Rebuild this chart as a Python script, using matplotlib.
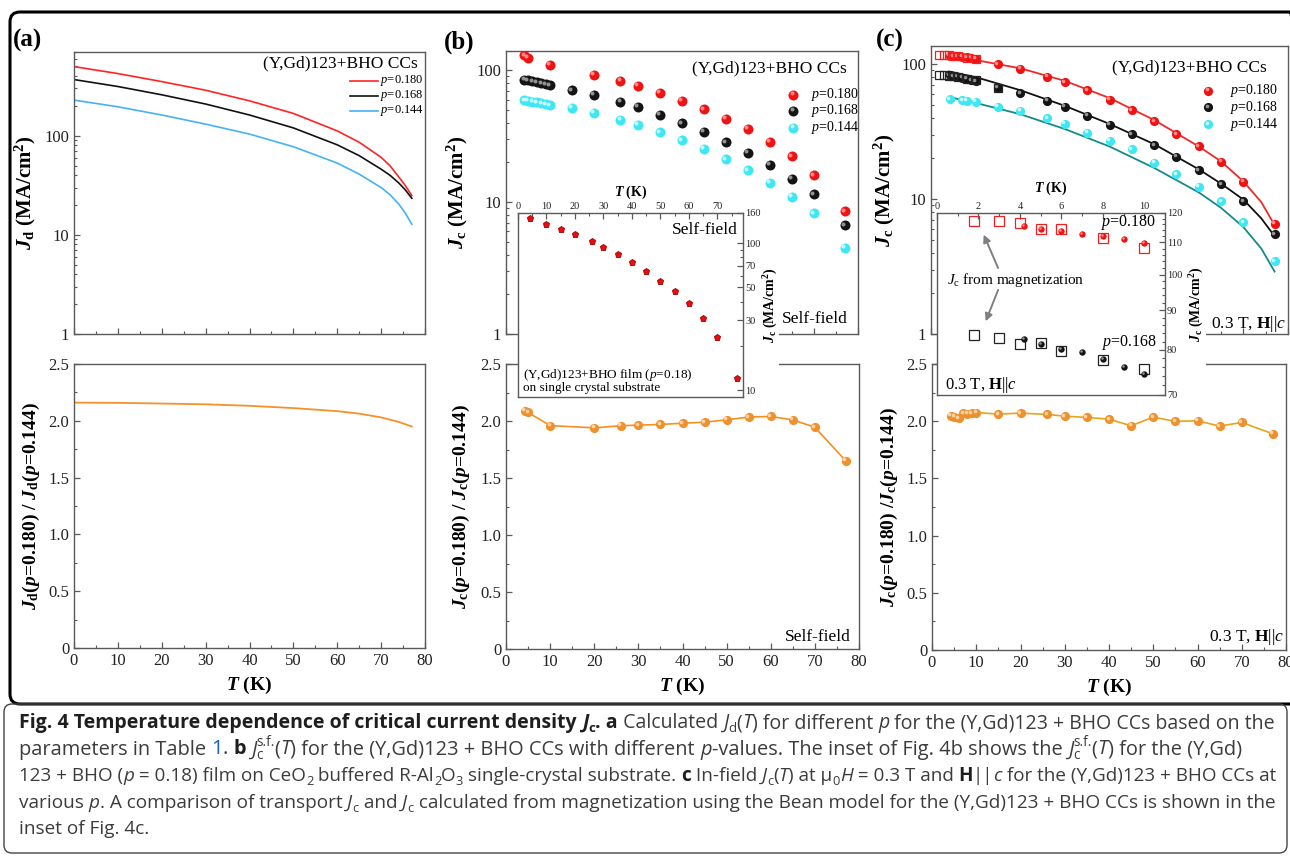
import numpy as np
import matplotlib
matplotlib.use("Agg")
import matplotlib.pyplot as plt
from matplotlib import transforms
from matplotlib.patches import Rectangle, FancyBboxPatch
from matplotlib.ticker import (MultipleLocator, FixedLocator, LogLocator,
                               NullFormatter, FuncFormatter)

plt.rcParams["font.family"] = ["Liberation Serif", "DejaVu Serif"]
plt.rcParams["mathtext.fontset"] = "custom"
plt.rcParams["mathtext.rm"] = "Liberation Serif"
plt.rcParams["mathtext.it"] = "Liberation Serif:italic"
plt.rcParams["mathtext.bf"] = "Liberation Serif:bold"
plt.rcParams["mathtext.bfit"] = "Liberation Serif:italic:bold"

# ---------------- data ----------------
# (a) calculated depairing current Jd(T)
T_a = [0, 10, 20, 30, 40, 50, 60, 65, 70, 72, 74, 75.5, 77]
jd_180 = [499, 424, 352, 288, 225, 168, 112, 86, 60.6, 50, 38.5, 31.5, 24.9]
jd_168 = [369, 314, 259, 209, 162, 120, 81, 63, 46, 40, 33.5, 28.5, 23.4]
jd_144 = [229, 196, 162, 131, 104, 77.5, 53, 41, 30, 25.5, 20.5, 16.6, 12.8]
T_ra = [0, 10, 20, 30, 40, 50, 60, 65, 70, 74, 77]
ratio_a = [2.16, 2.158, 2.152, 2.145, 2.132, 2.112, 2.085, 2.063, 2.03, 1.99, 1.95]

# (b) self-field Jc
T_b180 = [4.2, 5, 10, 20, 26, 30, 35, 40, 45, 50, 55, 60, 65, 70, 77]
jc_b180 = [130, 124, 110, 92.8, 83.5, 76.6, 67.3, 58.9, 50.7, 42.8, 35.8, 28.8, 22.3, 16, 8.55]
T_b = [4.2, 5, 6, 7, 8, 9, 10, 15, 20, 26, 30, 35, 40, 45, 50, 55, 60, 65, 70, 77]
jc_b168 = [85, 84, 82.5, 81, 79.5, 78, 77, 70.5, 65, 57.5, 52.7, 45.9, 39.7, 34.1,
           28.5, 23.7, 19.2, 15.1, 11.5, 6.66]
jc_b144 = [59.2, 58.5, 57.8, 57, 56.2, 55.3, 54.3, 51.8, 47.5, 42.3, 38.5, 33.9, 29.5,
           25.4, 21.2, 17.4, 14, 11, 8.2, 4.5]
ratio_b = [2.09, 2.075, 1.96, 1.94, 1.958, 1.964, 1.97, 1.98, 1.99, 2.01, 2.035, 2.04,
           2.01, 1.945, 1.65]
# inset (b): film on single crystal substrate
T_ib = [4.2, 10, 15, 20, 26, 30, 35, 40, 45, 50, 55, 60, 65, 70, 77]
jc_ib = [148, 135.6, 125, 115.8, 103, 94.4, 84, 74.5, 65, 55.5, 46.9, 39, 31.1, 23, 12.2]

# (c) in-field Jc, 0.3 T
T_c = [4.2, 5, 6, 7, 8, 9, 10, 15, 20, 26, 30, 35, 40, 45, 50, 55, 60, 65, 70, 77]
jc_c180 = [115.4, 114.6, 113.7, 112.9, 112, 111.1, 109.7, 100, 92.3, 80.5, 73.5, 64.1,
           54.3, 45.5, 37.7, 30.3, 24.7, 18.9, 13.4, 6.58]
jc_c168 = [82.6, 81.5, 80.3, 79.4, 77.8, 76, 74.5, 67, 60.5, 53.4, 48.2, 41.5, 35.6,
           30.3, 25.1, 20.6, 16.4, 12.9, 9.6, 5.5]
T_c144 = [4.2, 7, 8, 10, 15, 20, 26, 30, 35, 40, 45, 50, 55, 60, 65, 70, 77]
jc_c144 = [55, 53.8, 53.4, 52.5, 48.4, 45, 39.7, 36.2, 31, 27, 23.3, 18.6, 15.3, 12.3,
           9.6, 6.76, 3.47]
# Jc from magnetization (open squares)
T_sq = [1.8, 3, 4, 5, 6, 8, 10]
sq_180 = [117.1, 117.1, 116.5, 114.6, 114.4, 111.5, 108.3]
sq_168 = [83.6, 82.9, 81.5, 81.6, 79.7, 77.6, 75.7]
T_sq_extra = [15]
sq_168_extra = [66]
# model curves in (c)
T_fit = [4, 10, 20, 30, 40, 50, 60, 65, 70, 74, 77]
fit_180 = [114, 107, 93, 75, 56, 38.5, 24.5, 19, 13.5, 9.5, 6.4]
fit_168 = [88, 80, 64, 49, 36, 25.5, 16.6, 13, 9.9, 7.2, 5.3]
fit_144 = [57, 51.5, 42.5, 33, 24.5, 17, 11.2, 8.6, 6.2, 4.3, 2.9]
ratio_c = [2.047, 2.041, 2.024, 2.068, 2.065, 2.071, 2.076, 2.062, 2.071, 2.059, 2.044,
           2.033, 2.018, 1.96, 2.036, 1.998, 2.004, 1.957, 1.989, 1.89]

labels_p = [r"$\mathit{p}$=0.180", r"$\mathit{p}$=0.168", r"$\mathit{p}$=0.144"]

# ---------------- figure ----------------
W, H = 1290, 856
fig = plt.figure(figsize=(W / 100, H / 100), dpi=100)
GREY = "#5a5a5a"
RED, RED_HL = "#F01212", "#FFA0A0"
BLK, BLK_HL = "#141414", "#A8A8A8"
CYN, CYN_HL = "#3DE8F4", "#E2FDFF"
ORG, ORG_HL = "#F0902C", "#FFE2BE"


def box(l, t, r, b):
    return [l / W, 1 - b / H, (r - l) / W, (b - t) / H]


def style(ax, size=12):
    for s in ax.spines.values():
        s.set_color(GREY)
        s.set_linewidth(1.0)
    ax.tick_params(which="both", direction="in", color=GREY, labelsize=size,
                   labelcolor="#222222")
    ax.tick_params(which="major", length=4, width=0.9)
    ax.tick_params(which="minor", length=2.3, width=0.8)


def main_axes(rect, log=False):
    ax = fig.add_axes(box(*rect))
    style(ax)
    ax.set_xlim(0, 80)
    ax.xaxis.set_major_locator(MultipleLocator(10))
    ax.xaxis.set_minor_locator(MultipleLocator(5))
    ax.tick_params(top=False, right=False, which="both")
    if log:
        ax.set_yscale("log")
        ax.yaxis.set_major_locator(LogLocator(base=10))
        ax.yaxis.set_minor_locator(LogLocator(base=10, subs=np.arange(2, 10)))
        ax.yaxis.set_major_formatter(FuncFormatter(lambda v, p: f"{v:g}"))
        ax.yaxis.set_minor_formatter(NullFormatter())
        ax.tick_params(labelbottom=False)
    else:
        ax.set_ylim(0, 2.5)
        ax.yaxis.set_major_locator(MultipleLocator(0.5))
        ax.yaxis.set_minor_locator(MultipleLocator(0.25))
        ax.yaxis.set_major_formatter(
            FuncFormatter(lambda v, p: "0" if abs(v) < 1e-9 else f"{v:.1f}"))
        ax.set_xlabel(r"$\mathbfit{T}$ (K)", fontsize=14, fontweight="bold")
        ax.xaxis.set_label_coords(0.5, -0.095)
    return ax


def balls(ax, x, y, c, hl, ms, z=3, transform=None, clip=True):
    tr = ax.transData if transform is None else transform
    ax.plot(x, y, "o", ms=ms, color=c, mew=0, zorder=z, transform=tr, clip_on=clip)
    off = transforms.offset_copy(tr, fig=fig, x=-0.16 * ms, y=0.16 * ms, units="points")
    ax.plot(x, y, "o", ms=0.4 * ms, color=hl, mew=0, alpha=0.85, zorder=z + 0.1,
            transform=off, clip_on=clip)


def ball_legend(ax, cols, xm, xt, ys, fs, ms):
    for (c, hl), lab, y in zip(cols, labels_p, ys):
        balls(ax, [xm], [y], c, hl, ms, z=5, transform=ax.transAxes, clip=False)
        ax.text(xt, y, lab, transform=ax.transAxes, fontsize=fs, va="center", ha="left")


JD = r"$\mathbfit{J}_\mathbf{d}$"
JC = r"$\mathbfit{J}_\mathbf{c}$"

# ---------- (a) ----------
axa = main_axes((74, 52, 425, 334), log=True)
axa.set_ylim(1, 700)
axa.plot(T_a, jd_180, color="#FF2424", lw=1.2)
axa.plot(T_a, jd_168, color="#111111", lw=1.2)
axa.plot(T_a, jd_144, color="#45B2F5", lw=1.2)
axa.text(0.98, 0.961, "(Y,Gd)123+BHO CCs", transform=axa.transAxes, ha="right",
         va="center", fontsize=12.5)
for c, lab, y in zip(["#FF2424", "#111111", "#45B2F5"], labels_p, [0.898, 0.844, 0.792]):
    axa.plot([0.786, 0.866], [y, y], color=c, lw=1.2, transform=axa.transAxes)
    axa.text(0.872, y, lab, transform=axa.transAxes, fontsize=9, va="center")
axa.set_ylabel(JD + " (MA/cm$^\\mathbf{2}$)", fontsize=15, fontweight="bold")
axa.yaxis.set_label_coords(-0.103, 0.5)

axa2 = main_axes((74, 364, 425, 648))
axa2.plot(T_ra, ratio_a, color="#F7902A", lw=1.3)
axa2.set_ylabel(JD + r"($\mathbfit{p}$=0.180) / " + JD + r"($\mathbfit{p}$=0.144)",
                fontsize=14, fontweight="bold")
axa2.yaxis.set_label_coords(-0.092, 0.5)

# ---------- (b) ----------
axb = main_axes((506, 51, 858, 334), log=True)
axb.set_ylim(1, 140)
balls(axb, T_b180, jc_b180, RED, RED_HL, 7.2)
balls(axb, T_b, jc_b168, BLK, BLK_HL, 7.2)
balls(axb, T_b, jc_b144, CYN, CYN_HL, 7.2)
axb.text(0.969, 0.94, "(Y,Gd)123+BHO CCs", transform=axb.transAxes, ha="right",
         va="center", fontsize=12.5)
ball_legend(axb, [(RED, RED_HL), (BLK, BLK_HL), (CYN, CYN_HL)], 0.816, 0.866,
            [0.845, 0.788, 0.729], 10, 7.2)
axb.text(0.972, 0.053, "Self-field", transform=axb.transAxes, ha="right",
         va="center", fontsize=12.5)
axb.set_ylabel(JC + " (MA/cm$^\\mathbf{2}$)", fontsize=15, fontweight="bold")
axb.yaxis.set_label_coords(-0.102, 0.5)

axb2 = main_axes((506, 364, 859, 649))
axb2.plot(T_b180, ratio_b, color="#F5901E", lw=1.2, zorder=2)
balls(axb2, T_b180, ratio_b, ORG, ORG_HL, 6.6)
axb2.text(0.977, 0.042, "Self-field", transform=axb2.transAxes, ha="right",
          va="center", fontsize=12.5)
axb2.set_ylabel(JC + r"($\mathbfit{p}$=0.180) / " + JC + r"($\mathbfit{p}$=0.144)",
                fontsize=14, fontweight="bold")
axb2.yaxis.set_label_coords(-0.096, 0.5)

# inset of (b)
fig.add_artist(Rectangle(((518) / W, 1 - 398 / H), (779 - 518) / W, (398 - 213) / H,
                         transform=fig.transFigure, facecolor="white",
                         edgecolor="none", zorder=1.5))
axbi = fig.add_axes(box(518, 213, 743, 397))
axbi.set_zorder(3)
style(axbi, size=7.5)
axbi.set_xlim(0, 79)
axbi.set_yscale("log")
axbi.set_ylim(9, 160)
axbi.xaxis.tick_top()
axbi.xaxis.set_label_position("top")
axbi.yaxis.tick_right()
axbi.yaxis.set_label_position("right")
axbi.xaxis.set_major_locator(MultipleLocator(10))
axbi.xaxis.set_minor_locator(MultipleLocator(5))
axbi.yaxis.set_major_locator(FixedLocator([10, 30, 50, 70, 100, 160]))
axbi.yaxis.set_major_formatter(FuncFormatter(lambda v, p: f"{v:g}"))
axbi.yaxis.set_minor_locator(LogLocator(base=10, subs=np.arange(2, 10)))
axbi.yaxis.set_minor_formatter(NullFormatter())
axbi.tick_params(which="both", pad=1.5)
axbi.plot(T_ib, jc_ib, "p", ms=5, color="#F00A0A", mec="#9A0000", mew=0.6)
axbi.set_xlabel(r"$\mathbfit{T}$ (K)", fontsize=10, fontweight="bold")
axbi.xaxis.set_label_coords(0.5, 1.095)
axbi.set_ylabel(JC + " (MA/cm$^\\mathbf{2}$)", fontsize=10, fontweight="bold")
axbi.yaxis.set_label_coords(1.085, 0.5)
axbi.text(0.978, 0.905, "Self-field", transform=axbi.transAxes, ha="right",
          va="center", fontsize=12.5)
axbi.text(0.022, 0.09, "(Y,Gd)123+BHO film ($\\mathit{p}$=0.18)\non single crystal substrate",
          transform=axbi.transAxes, ha="left", va="center", fontsize=9.5, linespacing=0.95)

# ---------- (c) ----------
axc = main_axes((931, 46, 1288, 334), log=True)
axc.set_ylim(1, 136)
axc.plot(T_fit, fit_180, color="#EE2A2A", lw=1.3, zorder=2)
axc.plot(T_fit, fit_168, color="#111111", lw=1.3, zorder=2)
axc.plot(T_fit, fit_144, color="#16898C", lw=1.3, zorder=2)
balls(axc, T_c, jc_c180, RED, RED_HL, 6.6)
balls(axc, T_c, jc_c168, BLK, BLK_HL, 6.6)
balls(axc, T_c144, jc_c144, CYN, CYN_HL, 6.6)
axc.plot(T_sq, sq_180, "s", ms=6, mfc="none", mec="#F02020", mew=0.9, zorder=4)
axc.plot(T_sq, sq_168, "s", ms=6, mfc="none", mec="#222222", mew=0.9, zorder=4)
axc.plot(T_sq_extra, sq_168_extra, "s", ms=6, mfc="none", mec="#222222", mew=0.9, zorder=4)
axc.text(0.941, 0.924, "(Y,Gd)123+BHO CCs", transform=axc.transAxes, ha="right",
         va="center", fontsize=12.5)
ball_legend(axc, [(RED, RED_HL), (BLK, BLK_HL), (CYN, CYN_HL)], 0.776, 0.837,
            [0.845, 0.787, 0.728], 10, 6.6)
axc.text(0.995, 0.035, r"0.3 T, $\mathbf{H}$||$\mathit{c}$", transform=axc.transAxes,
         ha="right", va="center", fontsize=12.5)
axc.set_ylabel(JC + " (MA/cm$^\\mathbf{2}$)", fontsize=15, fontweight="bold")
axc.yaxis.set_label_coords(-0.095, 0.5)

axc2 = main_axes((932, 364, 1286, 650))
axc2.plot(T_c, ratio_c, color="#E8A21C", lw=1.2, zorder=2)
balls(axc2, T_c, ratio_c, ORG, ORG_HL, 6.6)
axc2.text(0.994, 0.045, r"0.3 T, $\mathbf{H}$||$\mathit{c}$", transform=axc2.transAxes,
          ha="right", va="center", fontsize=12.5)
axc2.set_ylabel(JC + r"($\mathbfit{p}$=0.180) /" + JC + r"($\mathbfit{p}$=0.144)",
                fontsize=14, fontweight="bold")
axc2.yaxis.set_label_coords(-0.090, 0.5)

# inset of (c)
fig.add_artist(Rectangle((937 / W, 1 - 396 / H), (1206 - 937) / W, (396 - 213) / H,
                         transform=fig.transFigure, facecolor="white",
                         edgecolor="none", zorder=1.5))
axci = fig.add_axes(box(937, 213, 1165, 395))
axci.set_zorder(3)
style(axci, size=7.5)
axci.set_xlim(0, 11)
axci.set_yscale("log")
axci.set_ylim(70, 120)
axci.xaxis.tick_top()
axci.xaxis.set_label_position("top")
axci.yaxis.tick_right()
axci.yaxis.set_label_position("right")
axci.xaxis.set_major_locator(MultipleLocator(2))
axci.xaxis.set_minor_locator(MultipleLocator(1))
axci.yaxis.set_major_locator(FixedLocator(np.arange(70, 121, 10)))
axci.yaxis.set_major_formatter(FuncFormatter(lambda v, p: f"{v:g}"))
axci.yaxis.set_minor_locator(FixedLocator(np.arange(70, 121, 2)))
axci.yaxis.set_minor_formatter(NullFormatter())
axci.tick_params(which="both", pad=1.5)
axci.plot(T_sq, sq_180, "s", ms=7, mfc="none", mec="#F02020", mew=0.9, zorder=4)
axci.plot(T_sq, sq_168, "s", ms=7, mfc="none", mec="#222222", mew=0.9, zorder=4)
balls(axci, T_c[:7], jc_c180[:7], RED, RED_HL, 4.6, z=5)
balls(axci, T_c[:7], jc_c168[:7], BLK, BLK_HL, 4.6, z=5)
axci.annotate("", xy=(2.2, 113.4), xytext=(3.0, 101.2),
              arrowprops=dict(arrowstyle="-|>", color="#808080", lw=1.4, mutation_scale=11))
axci.annotate("", xy=(2.3, 86.4), xytext=(3.0, 96.3),
              arrowprops=dict(arrowstyle="-|>", color="#808080", lw=1.4, mutation_scale=11))
axci.text(0.47, 98.5, r"$\mathit{J}_\mathrm{c}$ from magnetization", fontsize=11, va="center")
axci.text(10.6, 116.6, labels_p[0], fontsize=11.5, ha="right", va="center")
axci.text(10.65, 81.8, labels_p[1], fontsize=11.5, ha="right", va="center")
axci.text(0.035, 0.055, r"0.3 T, $\mathbf{H}$||$\mathit{c}$", transform=axci.transAxes,
          ha="left", va="center", fontsize=12)
axci.set_xlabel(r"$\mathbfit{T}$ (K)", fontsize=10, fontweight="bold")
axci.xaxis.set_label_coords(0.5, 1.115)
axci.set_ylabel(JC + " (MA/cm$^\\mathbf{2}$)", fontsize=10, fontweight="bold")
axci.yaxis.set_label_coords(1.10, 0.5)

# panel letters
for lab, x, y in [("(a)", 27, 40), ("(b)", 459, 42), ("(c)", 890, 40)]:
    fig.text(x / W, 1 - y / H, lab, fontsize=18, fontweight="bold", ha="center", va="center")

# frames
ident = transforms.IdentityTransform()
fig.add_artist(FancyBboxPatch((10, H - 704), 1290, 692,
                              boxstyle="round,pad=0,rounding_size=10",
                              transform=ident, fill=False, edgecolor="black", lw=2.2))
fig.add_artist(FancyBboxPatch((4, H - 853), 1283, 149,
                              boxstyle="round,pad=0,rounding_size=8",
                              transform=ident, fill=False, edgecolor="#444444", lw=1.0))

# ---------------- caption ----------------
CAP = ["Open Sans", "DejaVu Sans"]
KIND = {
    "r": ("normal", "normal", 1.0, 0.0, True, "#3c3c3c"),
    "b": ("bold", "normal", 1.0, 0.0, True, "#1e1e1e"),
    "i": ("normal", "italic", 1.0, 0.0, True, "#3c3c3c"),
    "bi": ("bold", "italic", 1.0, 0.0, True, "#1e1e1e"),
    "sub": ("normal", "normal", 0.68, -0.22, True, "#3c3c3c"),
    "sub0": ("normal", "normal", 0.68, -0.22, False, "#3c3c3c"),
    "bsub": ("bold", "normal", 0.68, -0.22, True, "#1e1e1e"),
    "sup": ("normal", "normal", 0.68, 0.42, True, "#3c3c3c"),
    "link": ("normal", "normal", 1.0, 0.0, True, "#1a5fd0"),
}
rend = fig.canvas.get_renderer()


def seg_w(s, fs, k):
    wt, st = KIND[k][0], KIND[k][1]
    def w(txt):
        t = fig.text(0, 0, txt, fontsize=fs, weight=wt, style=st, family=CAP)
        ww = t.get_window_extent(rend).width
        t.remove()
        return ww
    return w("x" + s + "x") - w("xx")


def caption_line(base_y, segs, x0, fs, target=None):
    if target is not None:
        nat = sum(seg_w(s, fs * KIND[k][2], k) for s, k in segs if KIND[k][4])
        fs = fs * (target - x0) / nat
    x = x0
    for s, k in segs:
        wt, st, sc, dy, adv, col = KIND[k]
        f = fs * sc
        yy = base_y - dy * fs * 100 / 72
        fig.text(x / W, 1 - yy / H, s, fontsize=f, weight=wt, style=st, family=CAP,
                 color=col, ha="left", va="baseline")
        if adv:
            x += seg_w(s, f, k)
    return fs


cap = [
    ([("Fig. 4 Temperature dependence of critical current density ", "b"), ("J", "bi"),
      ("c", "bsub"), (". a", "b"), (" Calculated ", "r"), ("J", "i"), ("d", "sub"),
      ("(", "r"), ("T", "i"), (") for different ", "r"), ("p", "i"),
      (" for the (Y,Gd)123 + BHO CCs based on the", "r")], 1277),
    ([("parameters in Table ", "r"), ("1", "link"), (". ", "r"), ("b", "b"), (" ", "r"),
      ("J", "i"), ("c", "sub0"), ("s.f.", "sup"), ("(", "r"), ("T", "i"),
      (") for the (Y,Gd)123 + BHO CCs with different ", "r"), ("p", "i"),
      ("-values. The inset of Fig. 4b shows the ", "r"), ("J", "i"), ("c", "sub0"),
      ("s.f.", "sup"), ("(", "r"), ("T", "i"), (") for the (Y,Gd)", "r")], 1240),
    ([("123 + BHO (", "r"), ("p", "i"), (" = 0.18) film on CeO", "r"), ("2", "sub"),
      (" buffered R-Al", "r"), ("2", "sub"), ("O", "r"), ("3", "sub"),
      (" single-crystal substrate. ", "r"), ("c", "b"), (" In-field ", "r"), ("J", "i"),
      ("c", "sub"), ("(", "r"), ("T", "i"), (") at \u03bc", "r"), ("0", "sub"), ("H", "i"),
      (" = 0.3 T and ", "r"), ("H", "b"), ("||", "r"), ("c", "i"),
      (" for the (Y,Gd)123 + BHO CCs at", "r")], 1280),
    ([("various ", "r"), ("p", "i"), (". A comparison of transport ", "r"), ("J", "i"),
      ("c", "sub"), (" and ", "r"), ("J", "i"), ("c", "sub"),
      (" calculated from magnetization using the Bean model for the (Y,Gd)123 + BHO CCs is shown in the", "r")], 1277),
    ([("inset of Fig. 4c.", "r")], None),
]
fs_used = 11.5
for (segs, tgt), yb in zip(cap, [728, 754.5, 781, 807.5, 834]):
    fs_used = caption_line(yb, segs, 19, fs_used if tgt is None else 11.5, tgt)

fig.savefig("out.png", dpi=100)
